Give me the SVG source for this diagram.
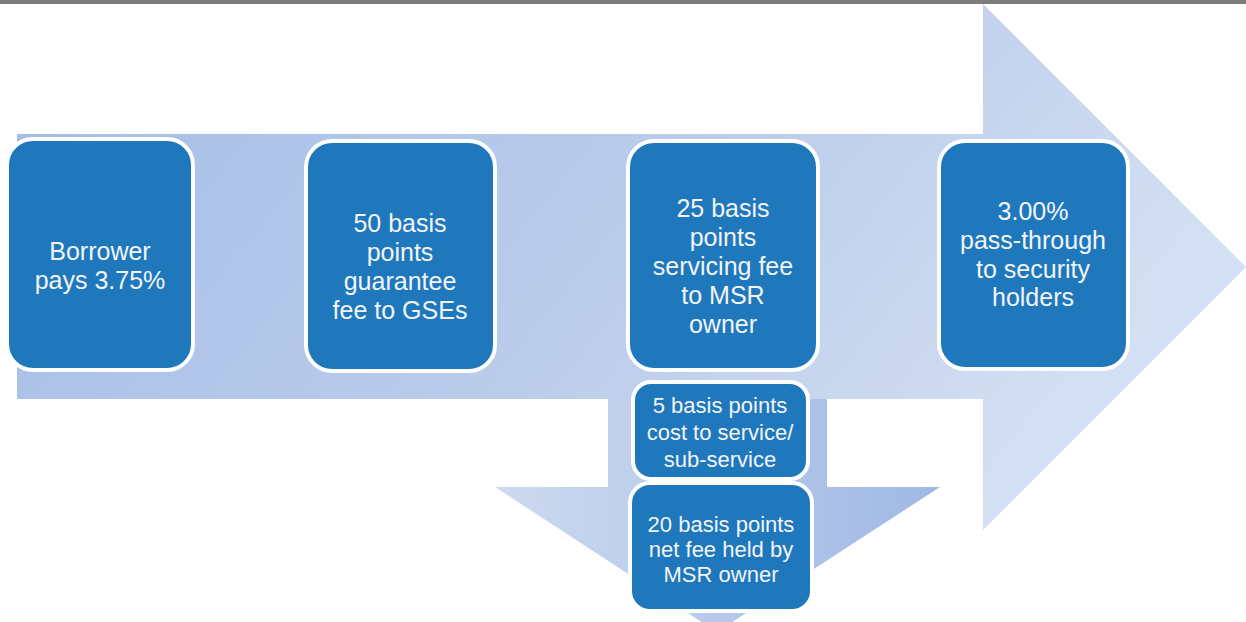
<svg xmlns="http://www.w3.org/2000/svg" width="1246" height="622" viewBox="0 0 1246 622">
  <defs>
    <linearGradient id="gMain" x1="0" y1="0" x2="1" y2="0.35">
      <stop offset="0" stop-color="#a2bce6"/>
      <stop offset="0.6" stop-color="#bccdeb"/>
      <stop offset="1" stop-color="#d3dff2"/>
    </linearGradient>
    <linearGradient id="gDown" x1="0" y1="0" x2="1" y2="0">
      <stop offset="0" stop-color="#cddaf0"/>
      <stop offset="1" stop-color="#9fb8e4"/>
    </linearGradient>
    <style>
      .box { fill: #1f78bc; stroke: #ffffff; stroke-width: 4; }
      .t { font-family: "Liberation Sans", Arial, sans-serif; fill: #f2f4f8; text-anchor: middle; }
      .big { font-size: 25px; }
      .small { font-size: 22px; }
    </style>
  </defs>
  <rect x="0" y="0" width="1246" height="622" fill="#ffffff"/>
  <rect x="0" y="0" width="1246" height="4" fill="#7d7d7d"/>

  <g id="connectors">
    <path d="M17,134 L983,134 L983,4 L1246,267 L983,530 L983,399 L17,399 Z" fill="url(#gMain)"/>
    <path d="M608,399 L827,399 L827,487 L940,487 L717,632 L495,487 L608,487 Z" fill="url(#gDown)"/>
  </g>

  <g id="node-borrower">
    <rect class="box" x="7" y="139" width="186" height="231" rx="26"/>
    <text class="t big" x="100" y="260">Borrower</text>
    <text class="t big" x="100" y="289">pays 3.75%</text>
  </g>

  <g id="node-gse">
    <rect class="box" x="306" y="141" width="189" height="230" rx="26"/>
    <text class="t big" x="400" y="232">50 basis</text>
    <text class="t big" x="400" y="261">points</text>
    <text class="t big" x="400" y="290">guarantee</text>
    <text class="t big" x="400" y="319">fee to GSEs</text>
  </g>

  <g id="node-servicing">
    <rect class="box" x="628" y="141" width="190" height="229" rx="26"/>
    <text class="t big" x="723" y="217">25 basis</text>
    <text class="t big" x="723" y="246">points</text>
    <text class="t big" x="723" y="275">servicing fee</text>
    <text class="t big" x="723" y="304">to MSR</text>
    <text class="t big" x="723" y="333">owner</text>
  </g>

  <g id="node-passthrough">
    <rect class="box" x="939" y="141" width="189" height="228" rx="26"/>
    <text class="t big" x="1033" y="220">3.00%</text>
    <text class="t big" x="1033" y="249">pass-through</text>
    <text class="t big" x="1033" y="278">to security</text>
    <text class="t big" x="1033" y="306">holders</text>
  </g>

  <g id="node-cost">
    <rect class="box" x="633" y="382" width="175" height="97" rx="18"/>
    <text class="t small" x="720" y="413">5 basis points</text>
    <text class="t small" x="720" y="440">cost to service/</text>
    <text class="t small" x="720" y="467">sub-service</text>
  </g>

  <g id="node-net">
    <rect class="box" x="630" y="483" width="182" height="128" rx="20"/>
    <text class="t small" x="721" y="532">20 basis points</text>
    <text class="t small" x="721" y="557">net fee held by</text>
    <text class="t small" x="721" y="582">MSR owner</text>
  </g>
</svg>
